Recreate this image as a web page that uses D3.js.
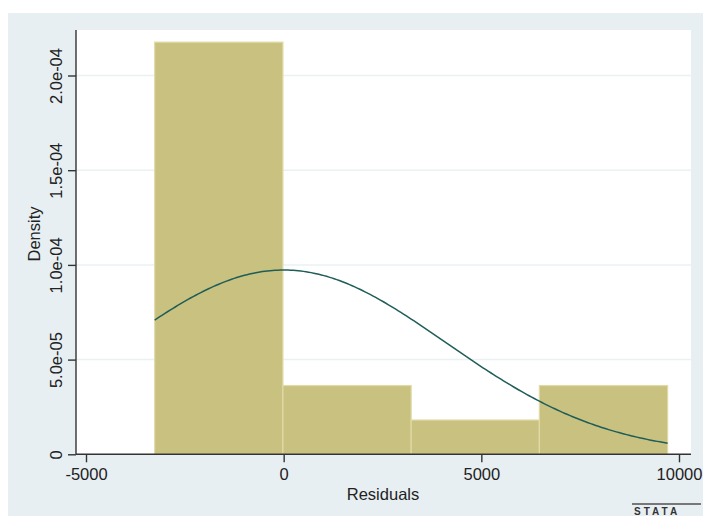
<!DOCTYPE html>
<html>
<head>
<meta charset="utf-8">
<script src="https://cdn.jsdelivr.net/npm/d3@7"></script>
<style>
  html, body { margin: 0; padding: 0; background: #ffffff; }
  svg { display: block; }
  text { font-family: "Liberation Sans", Arial, sans-serif; fill: #222; }
</style>
</head>
<body>
<svg id="chart" width="703" height="516"></svg>
<script>
// Histogram of residuals with a normal density overlay
const binEdges = [-3263, -19, 3225, 6468, 9712];
const densities = [2.176e-4, 3.63e-5, 1.81e-5, 3.63e-5];
const xTicks = [-5000, 0, 5000, 10000];
const xTickLabels = ["-5000", "0", "5000", "10000"];
const yTicks = [0, 5e-5, 1e-4, 1.5e-4, 2e-4];
const yTickLabels = ["0", "5.0e-05", "1.0e-04", "1.5e-04", "2.0e-04"];
const normalMean = 0;
const normalSd = 4100;

const svg = d3.select("#chart");
const W = 703, H = 516;
const fontSize = "16.5px";

// outer graph region
svg.append("rect").attr("x", 8).attr("y", 13).attr("width", W - 8).attr("height", H - 13)
  .attr("fill", "#e8eff2");

const plot = { left: 76, right: 691, top: 30, bottom: 454.3 };
svg.append("rect").attr("x", plot.left).attr("y", plot.top)
  .attr("width", plot.right - plot.left).attr("height", plot.bottom - plot.top)
  .attr("fill", "#ffffff");

const x = d3.scaleLinear().domain([-5000, 10000]).range([86, 679]);
const y = d3.scaleLinear().domain([0, 2e-4]).range([plot.bottom, 75.5]);

// horizontal grid lines
svg.append("g").selectAll("line").data(yTicks.slice(1)).join("line")
  .attr("x1", plot.left).attr("x2", plot.right)
  .attr("y1", d => y(d)).attr("y2", d => y(d))
  .attr("stroke", "#eaf1f3").attr("stroke-width", 1.5);

// bars
const bins = densities.map((d, i) => ({ x0: binEdges[i], x1: binEdges[i + 1], d }));
svg.append("g").selectAll("rect").data(bins).join("rect")
  .attr("x", b => x(b.x0)).attr("width", b => x(b.x1) - x(b.x0))
  .attr("y", b => y(b.d)).attr("height", b => y(0) - y(b.d))
  .attr("fill", "#c9c17f").attr("stroke", "#e0daa6").attr("stroke-width", 1.2);

// normal density curve over the data range
const normalPdf = v => Math.exp(-0.5 * Math.pow((v - normalMean) / normalSd, 2)) / (normalSd * Math.sqrt(2 * Math.PI));
const xs = d3.range(0, 201).map(i => binEdges[0] + (binEdges[binEdges.length - 1] - binEdges[0]) * i / 200);
svg.append("path").datum(xs)
  .attr("d", d3.line().x(v => x(v)).y(v => y(normalPdf(v))))
  .attr("fill", "none").attr("stroke", "#1f5e58").attr("stroke-width", 1.5);

// y axis
const yAxis = d3.axisLeft(y).tickValues(yTicks).tickFormat((d, i) => yTickLabels[i])
  .tickSize(8).tickSizeOuter(0);
const gy = svg.append("g").attr("transform", `translate(${plot.left},0)`).call(yAxis);
gy.select(".domain").attr("d", `M0,${plot.top}V${plot.bottom}`);
gy.selectAll("line, .domain").attr("stroke", "#333").attr("stroke-width", 1.4);
gy.selectAll(".tick text")
  .attr("transform", "rotate(-90)")
  .attr("x", 0).attr("y", -14).attr("dy", 0)
  .attr("text-anchor", "middle")
  .style("font-size", fontSize).style("fill", "#222");

// x axis
const xAxis = d3.axisBottom(x).tickValues(xTicks).tickFormat((d, i) => xTickLabels[i])
  .tickSize(8).tickSizeOuter(0).tickPadding(6);
const gx = svg.append("g").attr("transform", `translate(0,${plot.bottom})`).call(xAxis);
gx.select(".domain").attr("d", `M${plot.left},0H${plot.right}`);
gx.selectAll("line, .domain").attr("stroke", "#333").attr("stroke-width", 1.4);
gx.selectAll("text").style("font-size", fontSize).style("fill", "#222");

// axis titles
svg.append("text").attr("transform", "translate(40,234) rotate(-90)")
  .attr("text-anchor", "middle").style("font-size", fontSize).text("Density");
svg.append("text").attr("x", 383).attr("y", 500)
  .attr("text-anchor", "middle").style("font-size", fontSize).text("Residuals");

// corner logo
svg.append("line").attr("x1", 632).attr("x2", 701).attr("y1", 504).attr("y2", 504)
  .attr("stroke", "#777").attr("stroke-width", 2);
svg.append("text").attr("x", 634).attr("y", 515)
  .style("font-size", "10px").style("font-weight", "bold").style("letter-spacing", "3px")
  .style("fill", "#333").text("STATA");
</script>
</body>
</html>
